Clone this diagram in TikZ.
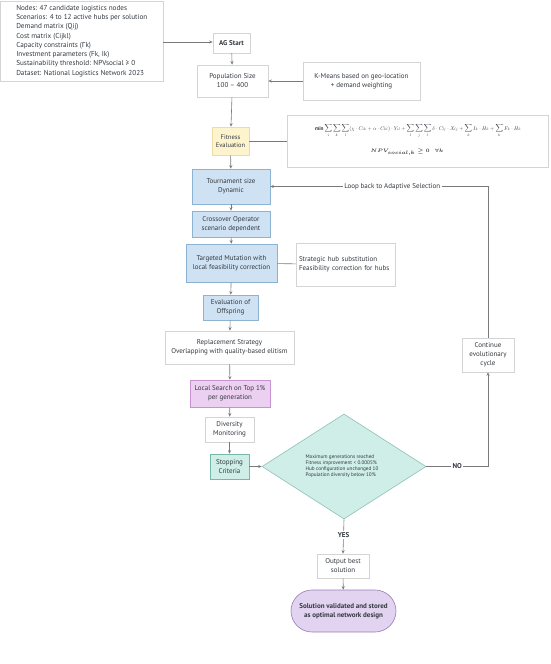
\documentclass[tikz,border=0pt]{standalone}
\usepackage{amsmath}
\usepackage{graphicx}
\usepackage{fontspec}
\setmainfont{PT Sans}
\newfontfamily\grkfont{Fira Sans}
\usetikzlibrary{shapes.geometric,arrows.meta}
\definecolor{txt}{HTML}{333940}
\definecolor{edge}{HTML}{7A7A7A}
\definecolor{gborder}{HTML}{D4D4D4}
\definecolor{bluef}{HTML}{CFE2F3}
\definecolor{blueb}{HTML}{8DB3D3}
\definecolor{yelf}{HTML}{FDF3CD}
\definecolor{yelb}{HTML}{EBDDA4}
\definecolor{pinkf}{HTML}{ECD0F1}
\definecolor{pinkb}{HTML}{C692D0}
\definecolor{tealf}{HTML}{CFEEE7}
\definecolor{tealb}{HTML}{74B9AA}
\definecolor{diab}{HTML}{8FBFB4}
\definecolor{solf}{HTML}{E2D3F0}
\definecolor{solb}{HTML}{9A7BB8}
\tikzset{
  base/.style={draw=gborder, line width=0.6pt, fill=white, text=txt, align=center,
    font=\fontsize{7}{9}\selectfont, inner sep=0pt},
  plain/.style={base},
  bluebox/.style={base, fill=bluef, draw=blueb},
  yelbox/.style={base, fill=yelf, draw=yelb},
  pinkbox/.style={base, fill=pinkf, draw=pinkb},
  tealbox/.style={base, fill=tealf, draw=tealb},
  arr/.style={draw=edge, line width=0.6pt, -{Stealth[length=3.5pt,width=3pt]}},
  ln/.style={draw=edge, line width=0.6pt},
  lbl/.style={fill=white, text=txt, inner sep=1.5pt, font=\fontsize{7}{9}\selectfont}
}
\begin{document}
\begin{tikzpicture}[x=1pt,y=-1pt]
\useasboundingbox (0,0) rectangle (550,664);
% nodes
\node[plain, minimum width=162pt, minimum height=80pt, align=left, anchor=north west,
  font=\fontsize{7.2}{9.3}\selectfont] (in) at (0.5,0.5) {\begin{tabular}{@{}l@{}}Nodes: 47 candidate logistics nodes\\
Scenarios: 4 to 12 active hubs per solution\\
Demand matrix (Qij)\\
Cost matrix (Cijkl)\\
Capacity constraints ({\grkfont Γ}k)\\
Investment parameters (Fk, Ik)\\
Sustainability threshold: NPVsocial ≥ 0\\
Dataset: National Logistics Network 2023\end{tabular}};
\node[plain, minimum width=37pt, minimum height=20pt, font=\fontsize{7}{9}\selectfont\bfseries] (start) at (231.5,43) {AG Start};
\node[plain, minimum width=71pt, minimum height=32pt] (pop) at (232.5,81) {Population Size\\100 – 400};
\node[plain, minimum width=117pt, minimum height=38pt] (km) at (361.5,81) {K-Means based on geo-location\\+ demand weighting};
\node[yelbox, minimum width=37pt, minimum height=28pt, font=\fontsize{6.5}{8.5}\selectfont] (fit) at (230.5,141) {Fitness\\Evaluation};
\node[plain, minimum width=261pt, minimum height=52pt] (form) at (417.5,141) {};
\node[text=txt, inner sep=0pt] (f1) at (418,131)
 {\resizebox{206pt}{!}{$\mathbf{min}\displaystyle\sum\limits_{i}\sum\limits_{k}\sum\limits_{l}(\chi\cdot C_{ik}+\alpha\cdot C_{kl})\cdot Y_{il}+\sum\limits_{l}\sum\limits_{j}\sum\limits_{l}\delta\cdot C_{lj}\cdot X_{lj}+\sum\limits_{k} I_k\cdot H_k+\sum\limits_{k} F_k\cdot H_k$}};
\node[text=txt, inner sep=0pt, font=\fontsize{5.2}{6}\selectfont] (f2) at (407,152)
 {$\boldsymbol{NPV_{social,k}\geq 0\quad\forall k}$};
\node[bluebox, minimum width=78pt, minimum height=35pt] (tour) at (231,186.5) {Tournament size\\Dynamic};
\node[bluebox, minimum width=78pt, minimum height=26pt] (cross) at (231,224) {Crossover Operator\\scenario dependent};
\node[bluebox, minimum width=91pt, minimum height=38pt] (mut) at (231.5,263) {Targeted Mutation with\\local feasibility correction};
\node[plain, minimum width=99pt, minimum height=43pt, align=left, text width=93pt] (strat) at (345.5,264.5) {Strategic hub substitution\\Feasibility correction for hubs};
\node[bluebox, minimum width=55pt, minimum height=25pt] (evo) at (230.5,307.5) {Evaluation of\\Offspring};
\node[plain, minimum width=129pt, minimum height=33pt] (rep) at (229.5,347.5) {Replacement Strategy\\Overlapping with quality-based elitism};
\node[pinkbox, minimum width=80pt, minimum height=27pt] (ls) at (230,393.5) {Local Search on Top 1\%\\per generation};
\node[plain, minimum width=49pt, minimum height=25pt] (div) at (229.5,429.5) {Diversity\\Monitoring};
\node[tealbox, minimum width=39pt, minimum height=25pt] (stop) at (229.5,466.5) {Stopping\\Criteria};
\node[diamond, draw=diab, line width=0.6pt, fill=tealf, minimum width=164pt, minimum height=105pt, inner sep=0pt] (dia) at (344,466.5) {};
\node[text=txt, align=left, inner sep=0pt, font=\fontsize{5.2}{6.1}\selectfont] (diat) at (342,466.5)
 {Maximum generations reached\\Fitness improvement < 0.0005\%\\Hub configuration unchanged 10\\Population diversity below 10\%};
\node[plain, minimum width=52pt, minimum height=34pt] (cont) at (488,355) {Continue\\evolutionary\\cycle};
\node[plain, minimum width=52pt, minimum height=24pt] (out) at (343,566) {Output best\\solution};
\node[base, fill=solf, draw=solb, rounded corners=21pt, minimum width=105pt, minimum height=42pt, font=\fontsize{7}{9}\selectfont\bfseries] (sol) at (343.5,611) {Solution validated and stored\\as optimal network design};
% connectors
\coordinate (inr) at (163,42);
\draw[arr] (inr) -- (start.west |- inr);
\draw[arr] (start) -- (pop);
\draw[arr] (km) -- (pop);
\draw[arr] (pop) -- (fit);
\draw[ln] (fit) -- (form);
\draw[arr] (fit) -- (tour);
\draw[arr] (tour) -- (cross);
\draw[arr] (cross) -- (mut);
\draw[ln] (mut) -- (strat);
\draw[arr] (mut) -- (evo);
\draw[arr] (evo) -- (rep);
\draw[arr] (rep) -- (ls);
\draw[arr] (ls) -- (div);
\draw[arr] (div) -- (stop);
\draw[arr] (stop) -- (dia);
\coordinate (noc) at (488,466.5);
\draw[arr] (dia.east) -- node[lbl, pos=0.5, font=\fontsize{7}{9}\selectfont\bfseries] {NO} (noc) -- (cont.south);
\coordinate (loopc) at (488,186.5);
\draw[arr] (cont.north) -- (loopc) -- node[lbl, pos=0.44] {Loop back to Adaptive Selection} (tour.east);
\draw[arr] (dia.south) -- node[lbl, pos=0.45, font=\fontsize{7}{9}\selectfont\bfseries] {YES} (out.north);
\draw[arr] (out) -- (sol);
\end{tikzpicture}
\end{document}
